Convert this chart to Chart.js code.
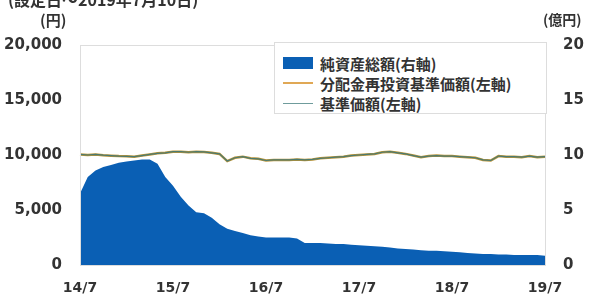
<!DOCTYPE html>
<html>
<head>
<meta charset="utf-8">
<script src="https://cdn.jsdelivr.net/npm/chart.js@4/dist/chart.umd.min.js"></script>
<style>
  body { margin: 0; background: #fff; }
  #wrap { position: relative; width: 595px; height: 295px; overflow: hidden; }
  .lbl { position: absolute; font-family: "Noto Sans CJK JP", sans-serif; font-weight: bold; color: #333; white-space: nowrap; }
  #legend { position: absolute; left: 274px; top: 42px; width: 273px; height: 72px; border: 1px solid #ddd; background: #fff; box-sizing: border-box; }
  .row { position: absolute; left: 8px; height: 20px; display: flex; align-items: center; font-family: "Noto Sans CJK JP", sans-serif; font-weight: bold; font-size: 15px; color: #333; }
  .sw { width: 30px; margin-right: 7px; }
</style>
</head>
<body>
<div id="wrap">
  <canvas id="chart" width="595" height="295"></canvas>
  <div class="lbl" style="left:8px; top:-13px; font-size:16px;">(設定日～2019年7月10日)</div>
  <div class="lbl" style="left:40px; top:9px; font-size:15px;">(円)</div>
  <div class="lbl" style="left:543px; top:9px; font-size:14px;">(億円)</div>
  <div id="legend">
    <div class="row" style="top:10px;"><span class="sw" style="height:12px; background:#0a5fb4;"></span>純資産総額(右軸)</div>
    <div class="row" style="top:30px;"><span class="sw" style="height:2px; background:#e0a855;"></span>分配金再投資基準価額(左軸)</div>
    <div class="row" style="top:50px;"><span class="sw" style="height:1px; background:#6f9c9c;"></span>基準価額(左軸)</div>
  </div>
</div>
<script>
// 月次 14/7 〜 19/7
const startYear = 14;
const startMonth = 7;
const monthCount = 61;
const tickLabels = ["14/7", "15/7", "16/7", "17/7", "18/7", "19/7"];

const months = [];
for (let i = 0; i < monthCount; i++) {
    const m = (startMonth - 1 + i) % 12 + 1;
    const y = startYear + Math.floor((startMonth - 1 + i) / 12);
    months.push(y + "/" + m);
}

// 純資産総額(億円)
const netAssets = [
    6.5, 8.0, 8.6, 8.9, 9.1, 9.3, 9.4, 9.5, 9.6, 9.6, 9.2, 8.0,
    7.2, 6.2, 5.4, 4.8, 4.7, 4.3, 3.7, 3.3, 3.1, 2.9, 2.7, 2.6,
    2.5, 2.5, 2.5, 2.5, 2.4, 2.0, 2.0, 2.0, 1.95, 1.9, 1.9, 1.85,
    1.8, 1.75, 1.7, 1.65, 1.6, 1.5, 1.45, 1.4, 1.35, 1.3, 1.3, 1.25,
    1.2, 1.15, 1.1, 1.05, 1.0, 1.0, 0.95, 0.95, 0.9, 0.9, 0.9, 0.9,
    0.85
];

// 分配金再投資基準価額(円)
const navReinvest = [
    10050, 10000, 10050, 9980, 9940, 9900, 9880, 9850, 9950, 10050, 10150, 10200,
    10300, 10300, 10250, 10300, 10280, 10200, 10100, 9450, 9750, 9850, 9700, 9650,
    9500, 9550, 9550, 9550, 9600, 9550, 9600, 9700, 9750, 9800, 9850, 9950,
    10000, 10050, 10100, 10250, 10300, 10200, 10100, 9950, 9800, 9900, 9950, 9900,
    9900, 9850, 9800, 9750, 9550, 9500, 9900, 9850, 9850, 9800, 9900, 9800,
    9850
];

// 基準価額(円) 分配なしのため同じ値
const nav = [
    10050, 10000, 10050, 9980, 9940, 9900, 9880, 9850, 9950, 10050, 10150, 10200,
    10300, 10300, 10250, 10300, 10280, 10200, 10100, 9450, 9750, 9850, 9700, 9650,
    9500, 9550, 9550, 9550, 9600, 9550, 9600, 9700, 9750, 9800, 9850, 9950,
    10000, 10050, 10100, 10250, 10300, 10200, 10100, 9950, 9800, 9900, 9950, 9900,
    9900, 9850, 9800, 9750, 9550, 9500, 9900, 9850, 9850, 9800, 9900, 9800,
    9850
];

const frame = {
    id: "frame",
    afterDraw(chart) {
        const a = chart.chartArea;
        const ctx = chart.ctx;
        ctx.save();
        ctx.strokeStyle = "#dddddd";
        ctx.lineWidth = 1;
        ctx.strokeRect(a.left + 0.5, a.top + 0.5, a.right - a.left, a.bottom - a.top);
        ctx.restore();
    }
};

const tickFont = { family: "DejaVu Sans", weight: "bold", size: 15 };

new Chart(document.getElementById("chart"), {
    type: "line",
    data: {
        labels: months,
        datasets: [
            {
                label: "基準価額(左軸)",
                data: nav,
                yAxisID: "y",
                borderColor: "#4a7a70",
                borderWidth: 1.2,
                pointRadius: 0,
                order: 1,
            },
            {
                label: "分配金再投資基準価額(左軸)",
                data: navReinvest,
                yAxisID: "y",
                borderColor: "#b89338",
                borderWidth: 2.5,
                pointRadius: 0,
                order: 2,
            },
            {
                label: "純資産総額(右軸)",
                data: netAssets,
                yAxisID: "y1",
                borderWidth: 0,
                backgroundColor: "#0a5fb4",
                fill: "origin",
                pointRadius: 0,
                order: 3,
            },
        ],
    },
    plugins: [frame],
    options: {
        responsive: false,
        animation: false,
        layout: { padding: { top: 45, left: 0, right: 0, bottom: 0 } },
        plugins: { legend: { display: false }, tooltip: { enabled: false } },
        scales: {
            x: {
                offset: false,
                grid: { display: false },
                border: { display: false },
                afterFit: (s) => { s.height = 30; },
                ticks: {
                    autoSkip: false,
                    maxRotation: 0,
                    padding: 7,
                    color: "#333",
                    font: { family: "DejaVu Sans", weight: "bold", size: 14 },
                    callback: function (v) {
                        const l = this.getLabelForValue(v);
                        return tickLabels.includes(l) ? l : "";
                    },
                },
            },
            y: {
                position: "left",
                min: 0,
                max: 20000,
                grid: { display: false },
                border: { display: false },
                afterFit: (s) => { s.width = 80; },
                ticks: {
                    stepSize: 5000,
                    padding: 10,
                    color: "#333",
                    font: tickFont,
                    callback: (v) => v.toLocaleString("en-US"),
                },
            },
            y1: {
                position: "right",
                min: 0,
                max: 20,
                grid: { display: false },
                border: { display: false },
                afterFit: (s) => { s.width = 50; },
                ticks: {
                    stepSize: 5,
                    padding: 10,
                    color: "#333",
                    font: tickFont,
                },
            },
        },
    },
});
</script>
</body>
</html>
